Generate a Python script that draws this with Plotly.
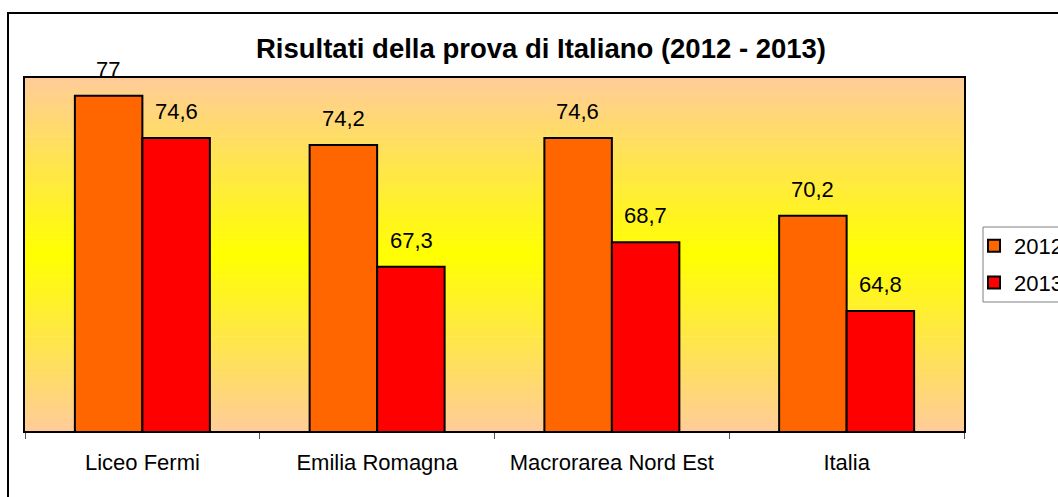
import plotly.graph_objects as go

categories = ["Liceo Fermi", "Emilia Romagna", "Macrorarea Nord Est", "Italia"]
series_names = ["2012", "2013"]
values_2012 = [77, 74.2, 74.6, 70.2]
values_2013 = [74.6, 67.3, 68.7, 64.8]
colors = ["#FF6600", "#FF0000"]
title_text = "Risultati della prova di Italiano (2012 - 2013)"

FONT = "Arial, 'Liberation Sans', sans-serif"
W, H = 1058, 497
ML, MR, MT, MB = 25, 94, 78, 66
PW, PH = W - ML - MR, H - MT - MB


def fmt(v):
    return f"{v:g}".replace(".", ",")


fig = go.Figure()
all_values = [values_2012, values_2013]
for j, (name, vals) in enumerate(zip(series_names, all_values)):
    fig.add_trace(go.Bar(
        name=name, x=categories, y=vals,
        marker=dict(color=colors[j], line=dict(color="black", width=2)),
        legendgroup=name,
    ))

# data labels
annotations = []
offsets = [-34, 34]
for j, vals in enumerate(all_values):
    for cat, v in zip(categories, vals):
        annotations.append(dict(
            x=cat, y=v, xref="x", yref="y", text=fmt(v), showarrow=False,
            xshift=offsets[j], yshift=12, yanchor="bottom", xanchor="center",
            font=dict(family=FONT, size=22, color="black"),
        ))

# gradient background (peach -> yellow -> peach)
shapes = []
N = 120
top = (255, 204, 153)
mid = (255, 255, 0)
for k in range(N):
    y0 = k / N
    y1 = (k + 1) / N
    yc = (y0 + y1) / 2
    t = abs(yc - 0.5) * 2
    c = tuple(round(mid[i] + (top[i] - mid[i]) * t) for i in range(3))
    shapes.append(dict(
        type="rect", xref="x domain", yref="y domain",
        x0=0, x1=1, y0=y0, y1=min(1, y1 + 0.002),
        fillcolor=f"rgb{c}", line=dict(width=0), layer="below",
    ))

# outer chart frame
shapes.append(dict(
    type="rect", xref="paper", yref="paper",
    x0=(8 - ML) / PW, x1=(1060 - ML) / PW,
    y0=-0.4, y1=1 + (MT - 13) / PH,
    line=dict(color="black", width=2), fillcolor="rgba(0,0,0,0)",
))
# legend box
shapes.append(dict(
    type="rect", xref="paper", yref="paper",
    x0=(983 - ML) / PW, x1=(1070 - ML) / PW,
    y0=(H - MB - 302) / PH, y1=(H - MB - 227) / PH,
    line=dict(color="#808080", width=1), fillcolor="white", layer="below",
))

fig.update_layout(
    width=W, height=H,
    margin=dict(l=ML, r=MR, t=MT, b=MB, autoexpand=False),
    paper_bgcolor="white", plot_bgcolor="rgba(0,0,0,0)",
    barmode="group", bargap=0.425, bargroupgap=0,
    title=dict(
        text=f"<b>{title_text}</b>", x=541 / W, xref="container", xanchor="center",
        y=1 - 48 / H, yref="container", yanchor="middle",
        font=dict(family=FONT, size=27.5, color="black"),
    ),
    font=dict(family=FONT, color="black"),
    legend=dict(
        x=(974 - ML) / PW, y=(H - MB - 225) / PH, xanchor="left", yanchor="top",
        bgcolor="rgba(0,0,0,0)", borderwidth=0,
        font=dict(family=FONT, size=22, color="black"),
        tracegroupgap=5, traceorder="grouped",
    ),
    xaxis=dict(
        showline=True, linecolor="black", linewidth=2, mirror=True,
        ticks="outside", tickson="boundaries", ticklen=6, tickcolor="#555", tickwidth=1,
        tickfont=dict(family=FONT, size=22, color="black"),
        ticklabelstandoff=11,
        showgrid=False,
    ),
    yaxis=dict(
        range=[58, 78], showticklabels=False, showgrid=False, zeroline=False,
        showline=True, linecolor="black", linewidth=2, mirror=True, ticks="",
    ),
    annotations=annotations, shapes=shapes,
)

fig.write_html("out.html", config={"displayModeBar": False},
               post_script="document.body.style.margin='0';")
